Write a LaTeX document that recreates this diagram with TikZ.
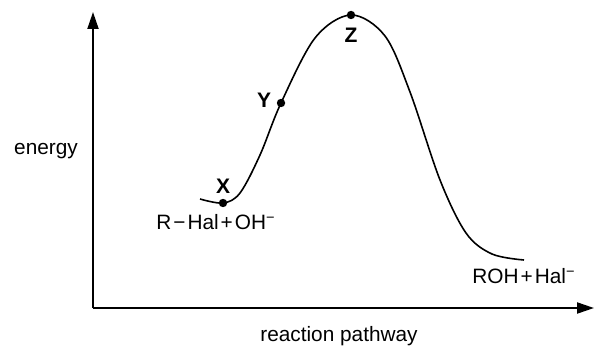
\documentclass[tikz,border=0pt]{standalone}
\usepackage{fontspec}
\setmainfont{Liberation Sans}
\usetikzlibrary{arrows.meta}

\begin{document}
\begin{tikzpicture}[x=0.5pt,y=-0.5pt,
    font=\fontsize{10.4}{12}\selectfont,
    axis/.style={line width=1pt,-{Triangle[length=8.5pt,width=5.5pt]}},
    dot/.style={circle,fill=black,inner sep=0pt,minimum size=4.2pt},
    lbl/.style={inner sep=1pt},
    letter/.style={inner sep=1pt,font=\fontsize{10.5}{12}\selectfont\bfseries}]
    \useasboundingbox (0,0) rectangle (597,347);
    % axes
    \coordinate (o) at (93,308);
    \coordinate (ytip) at (93,12);
    \coordinate (xtip) at (594,308);
    \draw[axis] (o) -- (ytip);
    \draw[axis] (o) -- (xtip);
    \node[lbl] (ylab) at (46,151) {energy};
    \node[lbl] (xlab) at (339,336) {reaction pathway};
    % points on the pathway
    \node[dot] (X) at (223,203) {};
    \node[dot] (Y) at (281,103) {};
    \node[dot] (Z) at (351,15) {};
    % the energy profile
    \draw[line width=0.8pt] plot[smooth,tension=0.55] coordinates
        {(200,199) (X.center) (240,193) (260,155) (Y.center) (315,38)
         (Z.center) (385,36) (410,92) (440,180) (466,233) (492,254) (524,260)};
    % labels
    \node[letter] (Xlab) at (223,186) {X};
    \node[letter] (Ylab) at (264,100) {Y};
    \node[letter] (Zlab) at (351,35) {Z};
    \node[lbl] (react) at (216,222) {R\kern1pt−\kern1ptHal\kern1pt+\kern1ptOH\textsuperscript{−}};
    \node[lbl] (prod) at (524,276) {ROH\kern1pt+\kern1ptHal\textsuperscript{−}};
\end{tikzpicture}
\end{document}
